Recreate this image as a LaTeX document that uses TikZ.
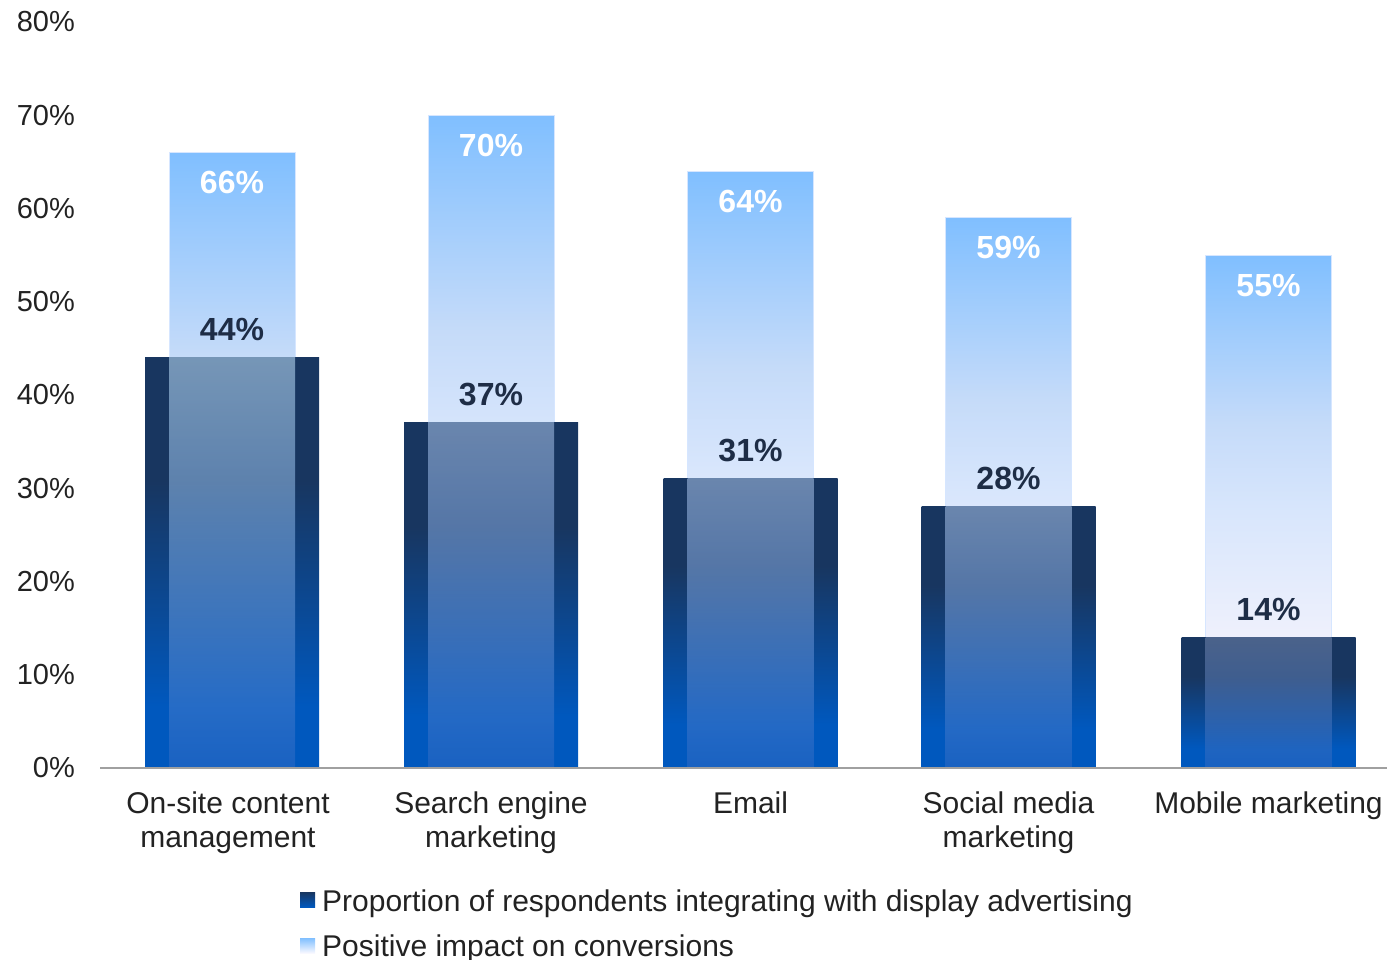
\documentclass[tikz,border=0pt]{standalone}
\usepackage{fontspec}
\setmainfont{Liberation Sans}
\definecolor{barnavy}{RGB}{24,54,96}
\definecolor{barblue}{RGB}{0,88,190}
\definecolor{lb0}{RGB}{128,191,255}
\definecolor{lb1}{RGB}{197,219,249}
\definecolor{lb2}{RGB}{216,230,252}
\definecolor{lb3}{RGB}{238,240,252}
\definecolor{lb4}{RGB}{248,248,255}
\definecolor{ovbot}{RGB}{47,106,197}
\definecolor{ovA}{RGB}{196,230,255}
\definecolor{ovB}{RGB}{174,200,238}
\definecolor{ovC}{RGB}{117,136,175}
\definecolor{labeldark}{RGB}{30,45,70}
\definecolor{txt}{RGB}{34,34,34}
\definecolor{axisgray}{RGB}{160,160,160}
\definecolor{lightedge}{RGB}{214,230,255}
\pgfdeclareverticalshading{darkbar}{100bp}{color(0bp)=(barblue); color(32.5bp)=(barblue); color(60bp)=(barnavy); color(100bp)=(barnavy)}
\pgfdeclareverticalshading{lightbar}{100bp}{color(0bp)=(lb4); color(25bp)=(lb4); color(38bp)=(lb3); color(50bp)=(lb2); color(58.5bp)=(lb1); color(75bp)=(lb0); color(100bp)=(lb0)}
\begin{document}
\begin{tikzpicture}[x=1pt,y=-1pt,
  ticklabel/.style={anchor=east,inner sep=0pt,text=txt,font=\fontsize{29}{34}\selectfont},
  catlabel/.style={anchor=north,inner sep=0pt,align=center,text=txt,font=\fontsize{30}{34}\selectfont},
  vallabel/.style={inner sep=0pt,font=\fontsize{32}{36}\selectfont\bfseries},
  legtext/.style={anchor=base west,inner sep=0pt,text=txt,font=\fontsize{30}{34}\selectfont}]
\useasboundingbox (0,0) rectangle (1387,960);
% y ticks
\foreach \k in {0,...,8}{
  \pgfmathsetmacro\yy{768-93.25*\k}
  \node[ticklabel] (tick\k) at (75,\yy) {\the\numexpr\k*10\relax\%};
}
% bars
\foreach \i/\c/\d/\l/\ov in {1/232/44/66/ovA,2/491/37/70/ovB,3/750.5/31/64/ovB,4/1008.5/28/59/ovB,5/1268.5/14/55/ovC}{
  \pgfmathsetmacro\yd{768-9.325*\d}
  \pgfmathsetmacro\yl{768-9.325*\l}
  \shade[shading=lightbar] (\c-63,\yl) rectangle (\c+63,768);
  \draw[lightedge,line width=1pt] (\c-63,768) -- (\c-63,\yl) -- (\c+63,\yl) -- (\c+63,768);
  \shade[shading=darkbar] (\c-87,\yd) rectangle (\c+87,768);
  \shade[top color=\ov,bottom color=ovbot,opacity=0.55] (\c-63,\yd) rectangle (\c+63,768);
  \node[vallabel,text=white] (top\i) at (\c,\yl+30) {\l\%};
  \node[vallabel,text=labeldark] (low\i) at (\c,\yd-28) {\d\%};
}
% axis
\coordinate (axL) at (100,768);
\coordinate (axR) at (1387,768);
\draw[axisgray,line width=2pt] (axL) -- (axR);
% categories
\node[catlabel] (cat1) at (228,792) {On-site content\\management};
\node[catlabel] (cat2) at (491,792) {Search engine\\marketing};
\node[catlabel] (cat3) at (750.5,792) {Email};
\node[catlabel] (cat4) at (1008.5,792) {Social media\\marketing};
\node[catlabel] (cat5) at (1268.5,792) {Mobile marketing};
% legend
\shade[top color=barnavy,bottom color=barblue] (300,892) rectangle (315,907);
\shade[top color=lb0,bottom color=lb4] (300,938) rectangle (315,953);
\node[legtext] (leg1) at (322,911) {Proportion of respondents integrating with display advertising};
\node[legtext] (leg2) at (322,956) {Positive impact on conversions};
\end{tikzpicture}
\end{document}
